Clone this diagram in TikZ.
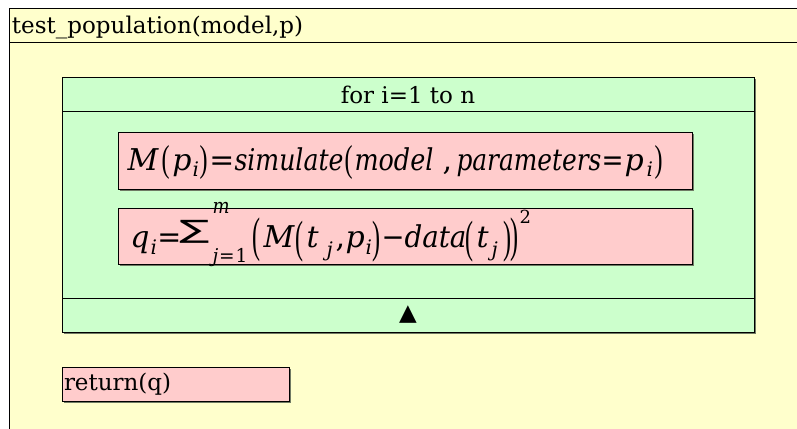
\documentclass[tikz,border=0pt]{standalone}
\usepackage{fontspec}
\usepackage{graphicx}
\usetikzlibrary{shadows}
\setmainfont{DejaVu Serif}
\newfontfamily\symff{DejaVu Sans}
\newfontfamily\parff{Liberation Serif}
\definecolor{yel}{HTML}{FFFFCC}
\definecolor{grn}{HTML}{CCFFCC}
\definecolor{pnk}{HTML}{FFCCCC}
\definecolor{shd}{RGB}{112,122,100}
% piece placed at an absolute horizontal offset inside one formula node
\newcommand\at[2]{\rlap{\hspace{#1pt}#2}}
% piece stretched horizontally to a given width
\newcommand\fit[2]{\resizebox{#1pt}{\height}{#2}}
\newcommand\iv[2]{\fit{#1}{\itshape #2}}
\newcommand\il[1]{{\itshape #1}}
\newcommand\PL[2]{\raisebox{-#2pt}{\resizebox*{8pt}{#1pt}{\raisebox{\depth}{\parff(}}}}
\newcommand\PR[2]{\raisebox{-#2pt}{\resizebox*{8pt}{#1pt}{\raisebox{\depth}{\parff)}}}}
\newcommand\sbs[2]{\raisebox{-#2pt}{\fontsize{20}{20}\selectfont\itshape #1}}
\tikzset{
 frame/.style={draw=black, line width=1pt, inner sep=0pt, outer sep=0pt, anchor=north west},
 shadowed/.style={general shadow={fill=shd, shadow xshift=1.6pt, shadow yshift=-1.6pt}},
 loopbox/.style={frame, shadowed, fill=grn, minimum width=692pt, minimum height=255pt},
 stmt/.style={frame, shadowed, fill=pnk},
 txt/.style={inner sep=0pt, outer sep=0pt},
 big/.style={font=\fontsize{23}{23}\selectfont},
 formula/.style={txt, anchor=base west, font=\fontsize{30}{30}\selectfont},
 rule/.style={draw=black, line width=1pt},
}
\begin{document}
\begin{tikzpicture}[x=1pt,y=-1pt]
\useasboundingbox (0,0) rectangle (797,428);
\fill[white] (0,0) rectangle (797,428);
\node[frame, fill=yel, minimum width=800pt, minimum height=430pt] (outer) at (9,9) {};
\draw[rule] ([yshift=-34pt]outer.north west) -- ([yshift=-34pt]outer.north east);
\node[txt, big, anchor=base west] (title) at (12,34) {test\_population(model,p)};

\node[loopbox] (loop) at (62,77) {};
\draw[rule] ([yshift=-34pt]loop.north west) -- ([yshift=-34pt]loop.north east);
\draw[rule] ([yshift=34pt]loop.south west) -- ([yshift=34pt]loop.south east);
\node[txt, big, anchor=base] (for) at (408,103) {for i=1 to n};
\node[txt, anchor=center] (tri) at (408,314.5) {\symff\fontsize{23}{23}\selectfont ▲};

\node[stmt, minimum width=574pt, minimum height=57pt] (s1) at (118,132) {};
\node[stmt, minimum width=574pt, minimum height=56pt] (s2) at (118,208) {};
\node[stmt, minimum width=227pt, minimum height=34pt] (ret) at (62,367) {};
\node[txt, big, anchor=base west] (rett) at (64,390) {return(q)};

\node[formula] (f1) at (0,170) {%
\at{127}{\il{M}}%
\at{161}{\PL{34}{9}}%
\at{172}{\il{p}}%
\at{192}{\sbs{i}{6}}%
\at{199}{\PR{34}{9}}%
\at{209}{\fit{25}{=}}%
\at{234}{\iv{109}{simulate}}%
\at{344}{\PL{34}{9}}%
\at{354}{\iv{79}{model}}%
\at{442}{,}%
\at{456}{\iv{145}{parameters}}%
\at{601}{\fit{22}{=}}%
\at{624}{\il{p}}%
\at{646}{\sbs{i}{6}}%
\at{654}{\PR{34}{9}}%
};

\node[formula] (f2) at (0,247) {%
\at{130}{\il{q}}%
\at{150}{\sbs{i}{7}}%
\at{157}{\fit{24}{=}}%
\at{179}{\raisebox{4pt}{\resizebox*{30pt}{23pt}{\raisebox{\depth}{\symff ∑}}}}%
\at{212}{\raisebox{34pt}{\fontsize{21}{21}\selectfont\iv{17}{m}}}%
\at{212}{\raisebox{-15pt}{\fontsize{19}{19}\selectfont\fit{35}{\itshape j\upshape\hspace{1pt}=\hspace{1pt}1}}}%
\at{252}{\PL{44}{15}}%
\at{263}{\il{M}}%
\at{295}{\PL{41}{15}}%
\at{306}{\il{t}}%
\at{326}{\sbs{j}{9}}%
\at{335}{,}%
\at{345}{\il{p}}%
\at{365}{\sbs{i}{7}}%
\at{372}{\PR{41}{15}}%
\at{381}{\fit{23}{−}}%
\at{404}{\iv{62}{data}}%
\at{465}{\PL{41}{15}}%
\at{476}{\il{t}}%
\at{491}{\sbs{j}{9}}%
\at{503}{\PR{41}{15}}%
\at{510}{\PR{44}{15}}%
\at{519}{\raisebox{24pt}{\fontsize{18}{18}\selectfont 2}}%
};
\end{tikzpicture}
\end{document}
